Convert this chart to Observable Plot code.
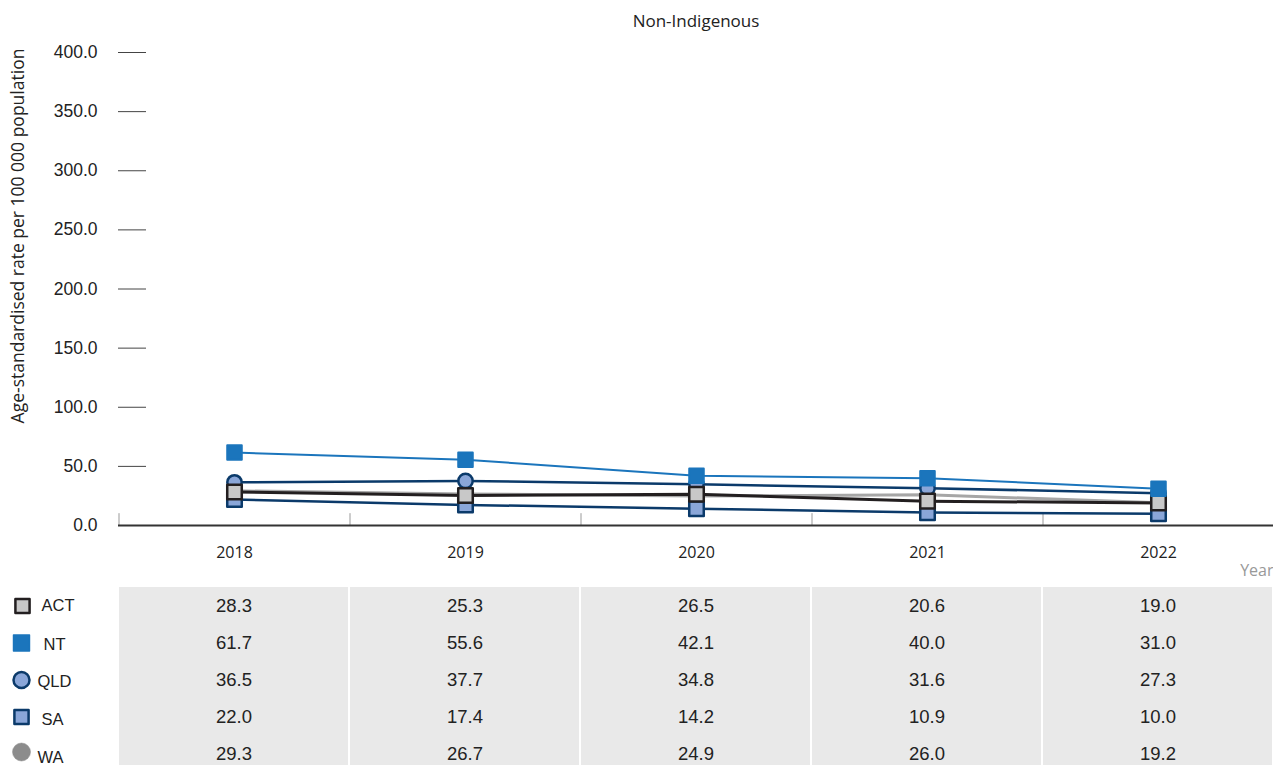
<!DOCTYPE html>
<html>
<head>
<meta charset="utf-8">
<script src="https://cdn.jsdelivr.net/npm/d3@7"></script>
<script src="https://cdn.jsdelivr.net/npm/@observablehq/plot@0.6"></script>
<style>
  html, body { margin: 0; padding: 0; background: #fff; overflow: hidden; }
  #chart svg, #table svg { display: block; }
</style>
</head>
<body>
<div id="chart"></div>
<div id="table"></div>
<script>
const title = "Non-Indigenous";
const yLabel = "Age-standardised rate per 100 000 population";
const xLabel = "Year";
const years = ["2018", "2019", "2020", "2021", "2022"];
const seriesNames = ["ACT", "NT", "QLD", "SA", "WA"];
const actValues = [28.3, 25.3, 26.5, 20.6, 19.0];
const ntValues  = [61.7, 55.6, 42.1, 40.0, 31.0];
const qldValues = [36.5, 37.7, 34.8, 31.6, 27.3];
const saValues  = [22.0, 17.4, 14.2, 10.9, 10.0];
const waValues  = [29.3, 26.7, 24.9, 26.0, 19.2];
const yTicks = [0, 50, 100, 150, 200, 250, 300, 350, 400];

const valuesBySeries = {ACT: actValues, NT: ntValues, QLD: qldValues, SA: saValues, WA: waValues};
const data = seriesNames.flatMap(s => years.map((y, i) => ({series: s, year: y, value: valuesBySeries[s][i]})));

const styles = {
  ACT: {line: "#231f20", lw: 3,   symbol: "square", fill: "#c8c8c8", stroke: "#231f20", sw: 2.5, r: 8.2, lr: 8.0, lsw: 2.5, lx: 22, lty: 0, ltx: 41, ldy: 0},
  NT:  {line: "#1b75bc", lw: 2,   symbol: "square", fill: "#1b75bc", stroke: "#1b75bc", sw: 2,   r: 8.2, lr: 9.0, lsw: 1.5, lx: 21, lty: 2, ltx: 43, ldy: 0},
  QLD: {line: "#0b3a6a", lw: 2.5, symbol: "circle", fill: "#8aa6d8", stroke: "#0b3a6a", sw: 2.5, r: 7.2, lr: 8.0, lsw: 2.5, lx: 21, lty: 2, ltx: 37, ldy: 0},
  SA:  {line: "#0b3a6a", lw: 2.5, symbol: "square", fill: "#8aa6d8", stroke: "#0b3a6a", sw: 2.5, r: 8.2, lr: 8.0, lsw: 2.5, lx: 21, lty: 3, ltx: 41, ldy: 0},
  WA:  {line: "#a6a6a6", lw: 3,   symbol: "circle", fill: "#8c8c8c", stroke: "#8c8c8c", sw: 1,   r: 7.2, lr: 9.0, lsw: 0.5, lx: 21, lty: 4, ltx: 37, ldy: -2}
};
const drawOrder = ["WA", "SA", "QLD", "ACT", "NT"];

const W = 1273, ML = 118, MT = 52, MB = 61, H = 586;
const half = (W - ML) / years.length / 2;
const sans = "Liberation Sans, Arial, sans-serif";
const open = "Open Sans, sans-serif";

const seriesMarks = drawOrder.flatMap(s => {
  const st = styles[s];
  const d = data.filter(v => v.series === s);
  return [
    Plot.line(d, {x: "year", y: "value", stroke: st.line, strokeWidth: st.lw}),
    Plot.dot(d, {x: "year", y: "value", symbol: st.symbol, r: st.r, fill: st.fill, stroke: st.stroke, strokeWidth: st.sw, strokeLinejoin: "round"})
  ];
});

const chart = Plot.plot({
  width: W, height: H,
  marginLeft: ML, marginRight: 0, marginTop: MT, marginBottom: MB,
  x: {type: "point", domain: years, padding: 0.5},
  y: {domain: [0, 400]},
  style: {background: "#fff", overflow: "visible"},
  marks: [
    Plot.axisY(yTicks, {tickFormat: d => d.toFixed(1), dx: 28, tickSize: 28, tickPadding: 21,
      fontFamily: sans, fontSize: 17.5, fill: "#222", stroke: "#444", label: null}),
    Plot.axisX({tickSize: 0, tickPadding: 21, fontFamily: open, fontSize: 16, fill: "#222", label: null}),
    Plot.ruleX(years, {x: d => d, y1: 0, y2: 10, dx: -half, stroke: "#999", strokeWidth: 1}),
    Plot.ruleY([0], {stroke: "#333", strokeWidth: 2}),
    Plot.text([title], {frameAnchor: "top", dy: -38, fontFamily: open, fontSize: 17, fill: "#222"}),
    Plot.text([yLabel], {frameAnchor: "left", textAnchor: "middle", rotate: -90, dx: 18 - ML, dy: -53, fontFamily: open, fontSize: 17.5, fill: "#222"}),
    Plot.text([xLabel], {frameAnchor: "bottom-right", textAnchor: "end", dy: 50, fontFamily: open, fontSize: 16, fill: "#999"}),
    ...seriesMarks
  ]
});
document.getElementById("chart").appendChild(chart);

const table = Plot.plot({
  width: W, height: 186,
  marginLeft: ML, marginRight: 0, marginTop: 0, marginBottom: 0,
  x: {type: "band", domain: years, padding: 0, axis: null},
  y: {type: "band", domain: seriesNames, padding: 0, axis: null},
  style: {background: "#fff", overflow: "visible"},
  marks: [
    Plot.cell(data, {x: "year", y: "series", fill: "#e9e9e9", insetLeft: 1, insetRight: 1}),
    Plot.text(data, {x: "year", y: "series", text: d => d.value.toFixed(1), fontFamily: sans, fontSize: 18.5, fill: "#222"}),
    ...seriesNames.flatMap(s => {
      const st = styles[s];
      return [
        Plot.dot([s], {y: d => d, frameAnchor: "left", dx: st.lx - ML, dy: st.ldy, symbol: st.symbol, r: st.lr, fill: st.fill,
          stroke: st.stroke, strokeWidth: st.lsw, strokeLinejoin: "round"}),
        Plot.text([s], {y: d => d, frameAnchor: "left", textAnchor: "start", dx: st.ltx - ML, dy: st.lty,
          fontFamily: sans, fontSize: 16.5, fill: "#222"})
      ];
    })
  ]
});
document.getElementById("table").appendChild(table);
</script>
</body>
</html>
